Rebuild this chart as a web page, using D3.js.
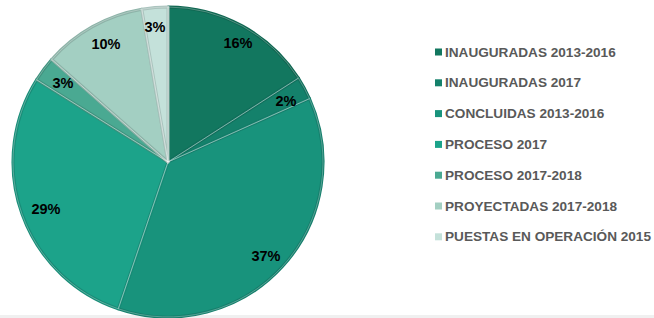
<!DOCTYPE html>
<html><head><meta charset="utf-8">
<script src="https://cdn.jsdelivr.net/npm/d3@7"></script>
<style>
html,body{margin:0;padding:0;background:#fff;}
svg{display:block;}
</style></head>
<body>
<svg id="chart" width="654" height="318"></svg>
<script>
const categories = ["INAUGURADAS 2013-2016","INAUGURADAS 2017","CONCLUIDAS 2013-2016","PROCESO 2017","PROCESO 2017-2018","PROYECTADAS 2017-2018","PUESTAS EN OPERACIÓN 2015"];
const values = [15.9, 2.4, 36.9, 28.7, 2.6, 10.8, 2.7];
const labels = ["16%","2%","37%","29%","3%","10%","3%"];
const colors = ["#12775f","#14816b","#18937c","#1ca38a","#4aa992","#a3cfc2","#c4e1da"];

const svg = d3.select("#chart");
svg.append("rect").attr("x",0).attr("y",315).attr("width",654).attr("height",3).attr("fill","#f0f0f0");

const cx = 168, cy = 162, R = 155;
const pie = d3.pie().sort(null).value(d => d.v);
const data = categories.map((c,i)=>({c, v: values[i], col: colors[i], lab: labels[i]}));
const arcs = pie(data);
const arc = d3.arc().innerRadius(0).outerRadius(R);
const g = svg.append("g").attr("transform",`translate(${cx},${cy})`);

g.selectAll("path.s").data(arcs).enter().append("path")
  .attr("class","s")
  .attr("d", arc)
  .attr("fill", d => d.data.col)
  .attr("stroke", d => d3.color(d.data.col).darker(0.4))
  .attr("stroke-width", 3)
  .attr("stroke-linejoin","round");
g.selectAll("path.sep").data(arcs).enter().append("path")
  .attr("class","sep")
  .attr("d", arc)
  .attr("fill", "none")
  .attr("stroke", "rgba(255,255,255,0.35)")
  .attr("stroke-width", 0.8);

const labelPos = [[238,43],[286,101],[266,256],[46,209],[63,83],[106,44],[155,27]];
g.selectAll("text.l").data(arcs).enter().append("text")
  .attr("class","l")
  .attr("x", (d,i)=> labelPos[i][0]-cx)
  .attr("y", (d,i)=> labelPos[i][1]-cy)
  .attr("text-anchor","middle")
  .attr("dominant-baseline","central")
  .attr("font-family","Liberation Sans, Arial, sans-serif")
  .attr("font-weight","bold")
  .attr("font-size",14.5)
  .attr("fill","#000")
  .text(d=>d.data.lab);

const leg = svg.append("g");
const ly0 = 52, ldy = 30.8;
categories.forEach((c,i)=>{
  leg.append("rect").attr("x",435).attr("y",ly0+i*ldy-3.5).attr("width",7).attr("height",7).attr("fill",colors[i]);
  leg.append("text").attr("x",445).attr("y",ly0+i*ldy)
    .attr("dominant-baseline","central")
    .attr("font-family","Liberation Sans, Arial, sans-serif")
    .attr("font-weight","bold").attr("font-size",13.6).attr("fill","#595959").text(c);
});
</script>
</body></html>
